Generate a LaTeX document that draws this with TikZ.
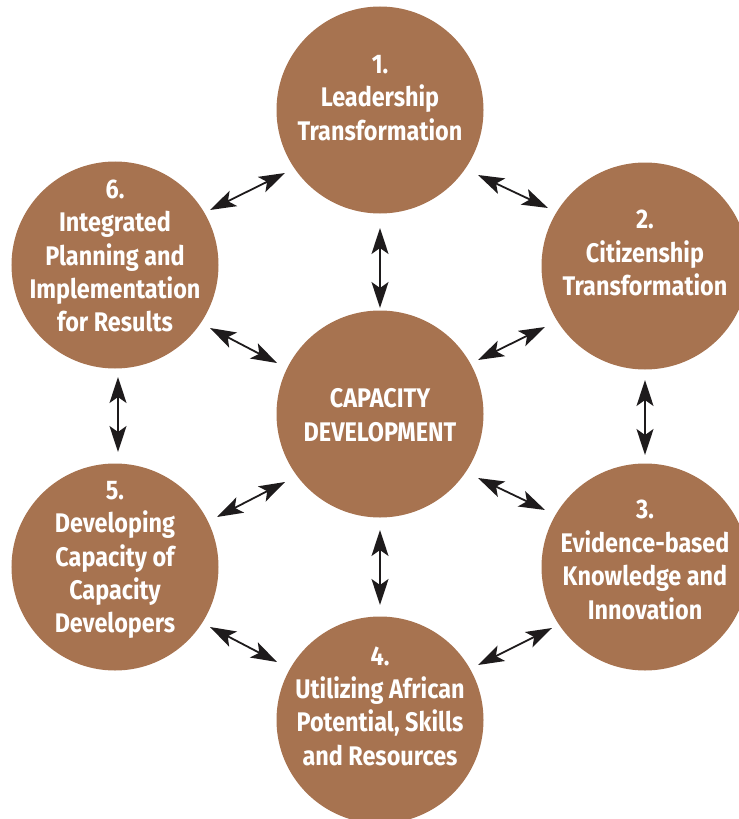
\documentclass[tikz,border=0pt]{standalone}
\usepackage{fontspec}
\setmainfont{Fira Sans}[FakeStretch=0.87]
\usetikzlibrary{arrows.meta,calc}
\definecolor{clay}{RGB}{167,115,80}
\definecolor{ink}{RGB}{30,27,28}
\begin{document}
\begin{tikzpicture}[x=1bp,y=-1bp,
  hub/.style={circle,fill=clay,draw=none,minimum size=207bp,inner sep=0pt},
  caption/.style={text=white,font=\bfseries\fontsize{27}{33.5}\selectfont,align=center,inner sep=0pt},
  link/.style={draw=ink,line width=1.8bp,
    >={Stealth[length=26bp,width=17bp,inset=6bp]},<->}]
\useasboundingbox (0,0) rectangle (739,819);
\begin{scope}
\clip (0,0) rectangle (739,819);
% the seven circles
\node[hub] (c0) at (380,414) {};
\node[hub] (c1) at (380,110) {};
\node[hub] (c2) at (645,266) {};
\node[hub] (c3) at (645,567) {};
\node[hub] (c4) at (380,720) {};
\node[hub] (c5) at (115,567) {};
\node[hub] (c6) at (115,265) {};
\end{scope}
% circle texts
\node[caption] (t0) at ($(c0)+(0,1)$) {CAPACITY\\DEVELOPMENT};
\node[caption] (t1) at ($(c1)+(0,-12)$) {1.\\Leadership\\Transformation};
\node[caption] (t2) at ($(c2)+(0,-13)$) {2.\\Citizenship\\Transformation};
\node[caption] (t3) at ($(c3)+(0,-7)$) {3.\\Evidence-based\\Knowledge and\\Innovation};
\node[caption] (t4) at ($(c4)+(0,-14)$) {4.\\Utilizing African\\Potential, Skills\\and Resources};
\node[caption] (t5) at ($(c5)+(0,-7)$) {5.\\Developing\\Capacity of\\Capacity\\Developers};
\node[caption] (t6) at ($(c6)+(0,-9)$) {6.\\Integrated\\Planning and\\Implementation\\for Results};
% two-way links
\draw[link] ($(c1)+(-95,63)$) -- ($(c6)+(95,-55)$);
\draw[link] ($(c1)+(98,65)$) -- ($(c2)+(-97,-58)$);
\draw[link] ($(c1)+(0,118)$) -- ($(c0)+(0,-106)$);
\draw[link] ($(c6)+(95,63)$) -- ($(c0)+(-103,-51)$);
\draw[link] ($(c2)+(-100,61)$) -- ($(c0)+(98,-54)$);
\draw[link] ($(c2)+(0,114)$) -- ($(c3)+(0,-112)$);
\draw[link] ($(c6)+(3,112)$) -- ($(c5)+(3,-115)$);
\draw[link] ($(c0)+(-95,68)$) -- ($(c5)+(102,-50)$);
\draw[link] ($(c0)+(98,64)$) -- ($(c3)+(-100,-57)$);
\draw[link] ($(c0)+(0,116)$) -- ($(c4)+(0,-115)$);
\draw[link] ($(c5)+(95,60)$) -- ($(c4)+(-103,-58)$);
\draw[link] ($(c3)+(-93,61)$) -- ($(c4)+(98,-55)$);
\end{tikzpicture}
\end{document}
